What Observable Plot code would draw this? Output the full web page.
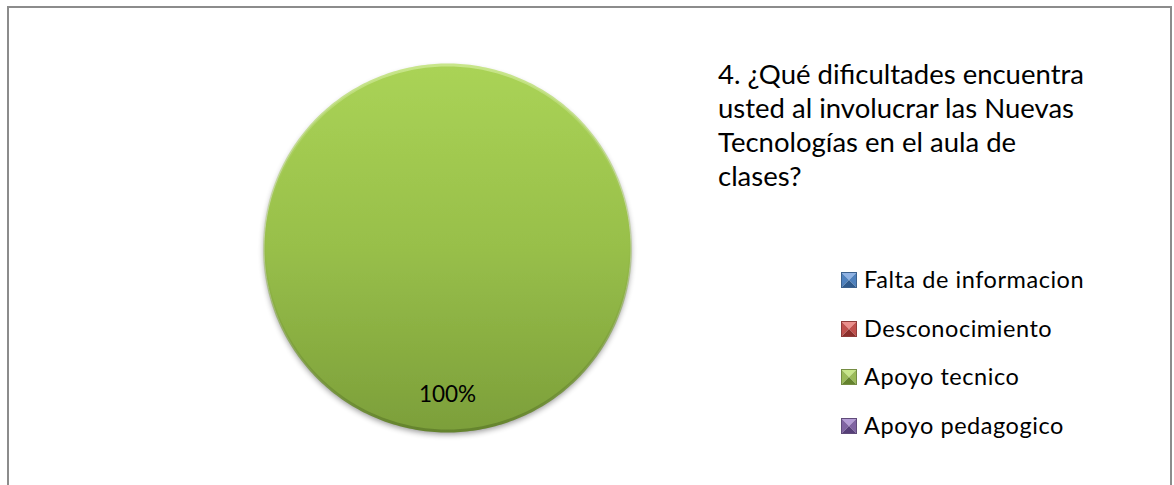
<!DOCTYPE html>
<html>
<head>
<meta charset="utf-8">
<script src="https://cdn.jsdelivr.net/npm/d3@7"></script>
<script src="https://cdn.jsdelivr.net/npm/@observablehq/plot@0.6"></script>
<style>
  html, body { margin: 0; padding: 0; background: #fff; overflow: hidden; }
  #wrap { position: relative; width: 1174px; height: 485px; overflow: hidden; font-family: Lato, "Open Sans", sans-serif; }
  #frame { position: absolute; left: 7px; top: 6px; width: 1165px; height: 600px; border: 2px solid #8c8c8c; box-sizing: border-box; }
  #chart { position: absolute; left: 0; top: 0; }
  #title { position: absolute; left: 718px; top: 57px; width: 420px; font-size: 27.5px; line-height: 34px; color: #000; white-space: nowrap; }
  #legend { position: absolute; left: 841px; top: 256px; }
  .item { display: flex; align-items: center; height: 48.5px; font-size: 23.5px; letter-spacing: 0.55px; color: #000; white-space: nowrap; }
  .item svg { margin-right: 7px; }
  .item span { position: relative; top: -1px; }
</style>
</head>
<body>
<div id="wrap">
  <div id="frame"></div>
  <div id="chart"></div>
  <div id="title"></div>
  <div id="legend"></div>
</div>
<script>
// ---- data ----
const titleLines = ["4. ¿Qué dificultades encuentra", "usted al involucrar las Nuevas", "Tecnologías en el aula de", "clases?"];
const categories = ["Falta de informacion", "Desconocimiento", "Apoyo tecnico", "Apoyo pedagogico"];
const values = [0, 0, 100, 0];
const colors = ["#4f81bd", "#c0504d", "#98bf4a", "#8064a2"];
const topColors = ["#6f9ad6", "#da6f6b", "#aad356", "#9d80c4"];
const bottomColors = ["#3d6899", "#9a3b38", "#7c9f3a", "#634c85"];
const lightColors = ["#8fb2e3", "#eb8f8c", "#c8e68a", "#b49cd6"];
const darkColors = ["#2f5a8c", "#8c2e2b", "#64832d", "#563f78"];

document.getElementById("title").innerHTML = titleLines.map(l => `<div>${l}</div>`).join("");

// ---- build slices with d3.pie ----
const total = d3.sum(values);
const pie = d3.pie().sort(null).value(d => d.value);
const arcs = pie(categories.map((c, i) => ({category: c, value: values[i], i})));

const N = 360;
const polyPts = [];
const labels = [];
arcs.forEach(a => {
  if (a.endAngle - a.startAngle <= 0) return;
  const full = (a.endAngle - a.startAngle) >= 2 * Math.PI - 1e-9;
  const steps = Math.max(2, Math.round(N * (a.endAngle - a.startAngle) / (2 * Math.PI)));
  if (!full) polyPts.push({x: 0, y: 0, k: a.data.category, i: a.data.i});
  for (let s = 0; s <= steps; s++) {
    const t = a.startAngle + (a.endAngle - a.startAngle) * s / steps;
    polyPts.push({x: Math.sin(t), y: Math.cos(t), k: a.data.category, i: a.data.i});
  }
  const mid = (a.startAngle + a.endAngle) / 2;
  labels.push({x: 0.8 * Math.sin(mid), y: 0.8 * Math.cos(mid), text: Math.round(a.data.value / total * 100) + "%"});
});

const cx = 447, cy = 247.5, R = 183;

const plot = Plot.plot({
  width: 1174,
  height: 485,
  margin: 0,
  x: {domain: [-1, 1], range: [cx - R, cx + R], axis: null},
  y: {domain: [-1, 1], range: [cy + R, cy - R], axis: null},
  marks: [
    Plot.line(polyPts, {x: "x", y: "y", z: "k", fill: d => `url(#g${d.i})`, stroke: "none", curve: "linear-closed", className: "slice"}),
    Plot.line(polyPts, {x: "x", y: "y", z: "k", fill: "none", stroke: d => `url(#r${d.i})`, strokeWidth: 3, curve: "linear-closed"}),
    Plot.text(labels, {x: "x", y: "y", text: "text", fontSize: 22.5, fill: "#000", fontFamily: "Lato, 'Open Sans', sans-serif"})
  ]
});

// gradients and shadow
const svg = d3.select(plot);
const defs = svg.insert("defs", ":first-child");
const sh = defs.append("filter").attr("id", "shadow").attr("x", "-10%").attr("y", "-10%").attr("width", "120%").attr("height", "125%");
sh.append("feGaussianBlur").attr("in", "SourceAlpha").attr("stdDeviation", 3);
sh.append("feOffset").attr("dx", 0).attr("dy", 3).attr("result", "b");
sh.append("feComponentTransfer").append("feFuncA").attr("type", "linear").attr("slope", 0.45);
const mg = sh.append("feMerge");
mg.append("feMergeNode");
mg.append("feMergeNode").attr("in", "SourceGraphic");

colors.forEach((c, i) => {
  const g = defs.append("linearGradient").attr("id", "g" + i).attr("x1", 0).attr("y1", 0).attr("x2", 0).attr("y2", 1);
  g.append("stop").attr("offset", "0%").attr("stop-color", topColors[i]);
  g.append("stop").attr("offset", "50%").attr("stop-color", c);
  g.append("stop").attr("offset", "100%").attr("stop-color", bottomColors[i]);
  const r = defs.append("linearGradient").attr("id", "r" + i).attr("x1", 0).attr("y1", 0).attr("x2", 0).attr("y2", 1);
  r.append("stop").attr("offset", "0%").attr("stop-color", lightColors[i]);
  r.append("stop").attr("offset", "45%").attr("stop-color", c).attr("stop-opacity", 0.3);
  r.append("stop").attr("offset", "100%").attr("stop-color", darkColors[i]);
});
svg.selectAll(".slice").attr("filter", "url(#shadow)");

document.getElementById("chart").appendChild(plot);

// legend
const legendColors = ["#4f81bd", "#c0504d", "#9bbb59", "#8064a2"];
const legend = d3.select("#legend");
categories.forEach((c, i) => {
  const item = legend.append("div").attr("class", "item");
  const s = item.append("svg").attr("width", 16).attr("height", 16);
  const col = d3.color(legendColors[i]);
  s.append("polygon").attr("points", "0,0 16,0 8,8").attr("fill", lightColors[i]);
  s.append("polygon").attr("points", "0,0 0,16 8,8").attr("fill", legendColors[i]);
  s.append("polygon").attr("points", "16,0 16,16 8,8").attr("fill", legendColors[i]);
  s.append("polygon").attr("points", "0,16 16,16 8,8").attr("fill", darkColors[i]);
  s.append("rect").attr("x", 0.5).attr("y", 0.5).attr("width", 15).attr("height", 15).attr("fill", "none").attr("stroke", col.darker(0.8));
  item.append("span").text(c);
});
</script>
</body>
</html>
